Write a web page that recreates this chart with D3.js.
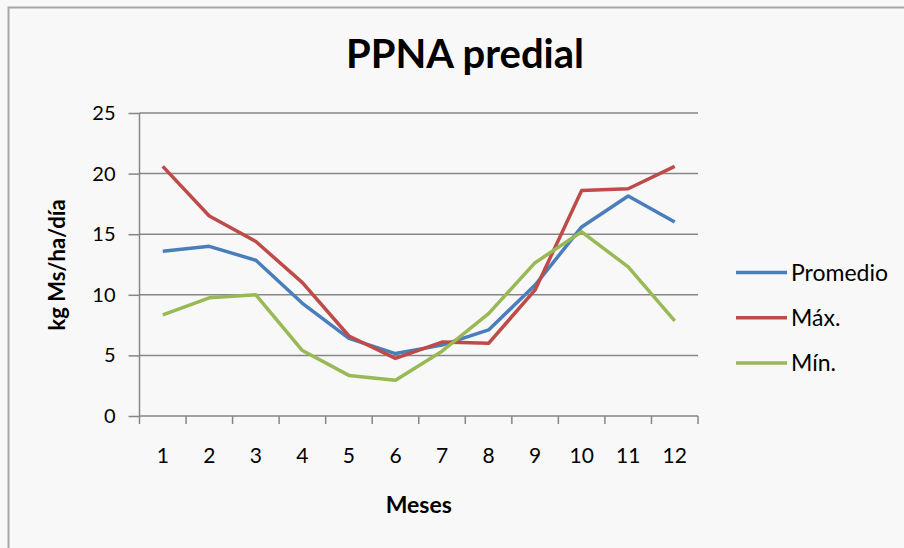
<!DOCTYPE html>
<html>
<head>
<meta charset="utf-8">
<script src="https://cdn.jsdelivr.net/npm/d3@7"></script>
<style>
  html, body { margin: 0; padding: 0; background: #f8f8f8; }
  svg { display: block; }
  .axis path, .axis line { stroke: #868686; stroke-width: 1.5; }
  .axis text { font-family: Lato, "Open Sans", sans-serif; fill: #000; }
</style>
</head>
<body>
<svg width="904" height="548"></svg>
<script>
// chart values
var months = ["1", "2", "3", "4", "5", "6", "7", "8", "9", "10", "11", "12"];
var promedio = [13.6, 14.0, 12.85, 9.3, 6.4, 5.15, 5.85, 7.1, 10.8, 15.6, 18.15, 16.0];
var maximo = [20.6, 16.5, 14.4, 11.0, 6.6, 4.75, 6.1, 6.0, 10.4, 18.6, 18.75, 20.6];
var minimo = [8.35, 9.75, 10.0, 5.4, 3.35, 2.95, 5.35, 8.45, 12.65, 15.2, 12.3, 7.85];
var seriesNames = ["Promedio", "Máx.", "Mín."];
var yTicks = [0, 5, 10, 15, 20, 25];

var colors = ["#4a7ebb", "#be4b48", "#98b954"];
var series = [promedio, maximo, minimo];

var svg = d3.select("svg");

// outer chart border (left + top only visible)
svg.append("path")
    .attr("d", "M8.5,548 L8.5,7.5 L904,7.5")
    .attr("fill", "none")
    .attr("stroke", "#a6a6a6")
    .attr("stroke-width", 2);

// plot area
var plotLeft = 139.5, plotRight = 698, plotTop = 113, plotBottom = 416;

var x = d3.scaleBand().domain(months).range([plotLeft, plotRight]);
var y = d3.scaleLinear().domain([0, 25]).range([plotBottom, plotTop]);

// gridlines
svg.append("g")
  .selectAll("line")
  .data(yTicks.filter(function(d) { return d > 0; }))
  .enter().append("line")
    .attr("x1", plotLeft)
    .attr("x2", plotRight)
    .attr("y1", function(d) { return y(d); })
    .attr("y2", function(d) { return y(d); })
    .attr("stroke", "#868686")
    .attr("stroke-width", 1.5);

// y axis
var yAxis = svg.append("g")
    .attr("class", "axis")
    .attr("transform", "translate(" + plotLeft + ",0)")
    .call(d3.axisLeft(y).tickValues(yTicks).tickSize(11).tickPadding(13).tickSizeOuter(0));
yAxis.selectAll("text").style("font-size", "20px");
yAxis.select(".domain").attr("d", "M0," + plotTop + "V" + (plotBottom + 8));

// x axis: labels centered in bands, ticks on band edges
var xAxis = svg.append("g")
    .attr("class", "axis")
    .attr("transform", "translate(0," + plotBottom + ")")
    .call(d3.axisBottom(x).tickSize(0).tickSizeOuter(0));
xAxis.select(".domain").attr("d", "M" + plotLeft + ",0H" + plotRight);
xAxis.selectAll("text")
    .attr("y", 40)
    .attr("dy", "0.35em")
    .style("font-size", "21px");

var edges = months.map(function(m) { return x(m); }).concat([plotRight]);
xAxis.selectAll(".edge")
  .data(edges.slice(1))
  .enter().append("line")
    .attr("class", "edge")
    .attr("x1", function(d) { return d; })
    .attr("x2", function(d) { return d; })
    .attr("y1", 0)
    .attr("y2", 8);

// lines
var line = d3.line()
    .x(function(d, i) { return x(months[i]) + x.bandwidth() / 2; })
    .y(function(d) { return y(d); });

series.forEach(function(s, i) {
    svg.append("path")
        .attr("d", line(s))
        .attr("fill", "none")
        .attr("stroke", colors[i])
        .attr("stroke-width", 3.5)
        .attr("stroke-linejoin", "round");
});

// title
svg.append("text")
    .attr("x", 465)
    .attr("y", 68)
    .attr("text-anchor", "middle")
    .style("font-family", "Lato, 'Open Sans', sans-serif")
    .style("font-weight", "bold")
    .style("font-size", "40px")
    .text("PPNA predial");

// axis titles
svg.append("text")
    .attr("x", (plotLeft + plotRight) / 2)
    .attr("y", 505)
    .attr("dy", "0.35em")
    .attr("text-anchor", "middle")
    .style("font-family", "Lato, 'Open Sans', sans-serif")
    .style("font-weight", "bold")
    .style("font-size", "23px")
    .text("Meses");

svg.append("text")
    .attr("transform", "translate(57,265) rotate(-90)")
    .attr("dy", "0.35em")
    .attr("text-anchor", "middle")
    .style("font-family", "Lato, 'Open Sans', sans-serif")
    .style("font-weight", "bold")
    .style("font-size", "22px")
    .text("kg Ms/ha/día");

// legend
var legend = svg.append("g")
  .selectAll("g")
  .data(seriesNames)
  .enter().append("g")
    .attr("transform", function(d, i) { return "translate(736," + (272.5 + i * 45.3) + ")"; });

legend.append("line")
    .attr("x1", 0)
    .attr("x2", 51)
    .attr("stroke", function(d, i) { return colors[i]; })
    .attr("stroke-width", 3.5);

legend.append("text")
    .attr("x", 55)
    .attr("dy", "0.35em")
    .style("font-family", "Lato, 'Open Sans', sans-serif")
    .style("font-size", "23px")
    .text(function(d) { return d; });
</script>
</body>
</html>
